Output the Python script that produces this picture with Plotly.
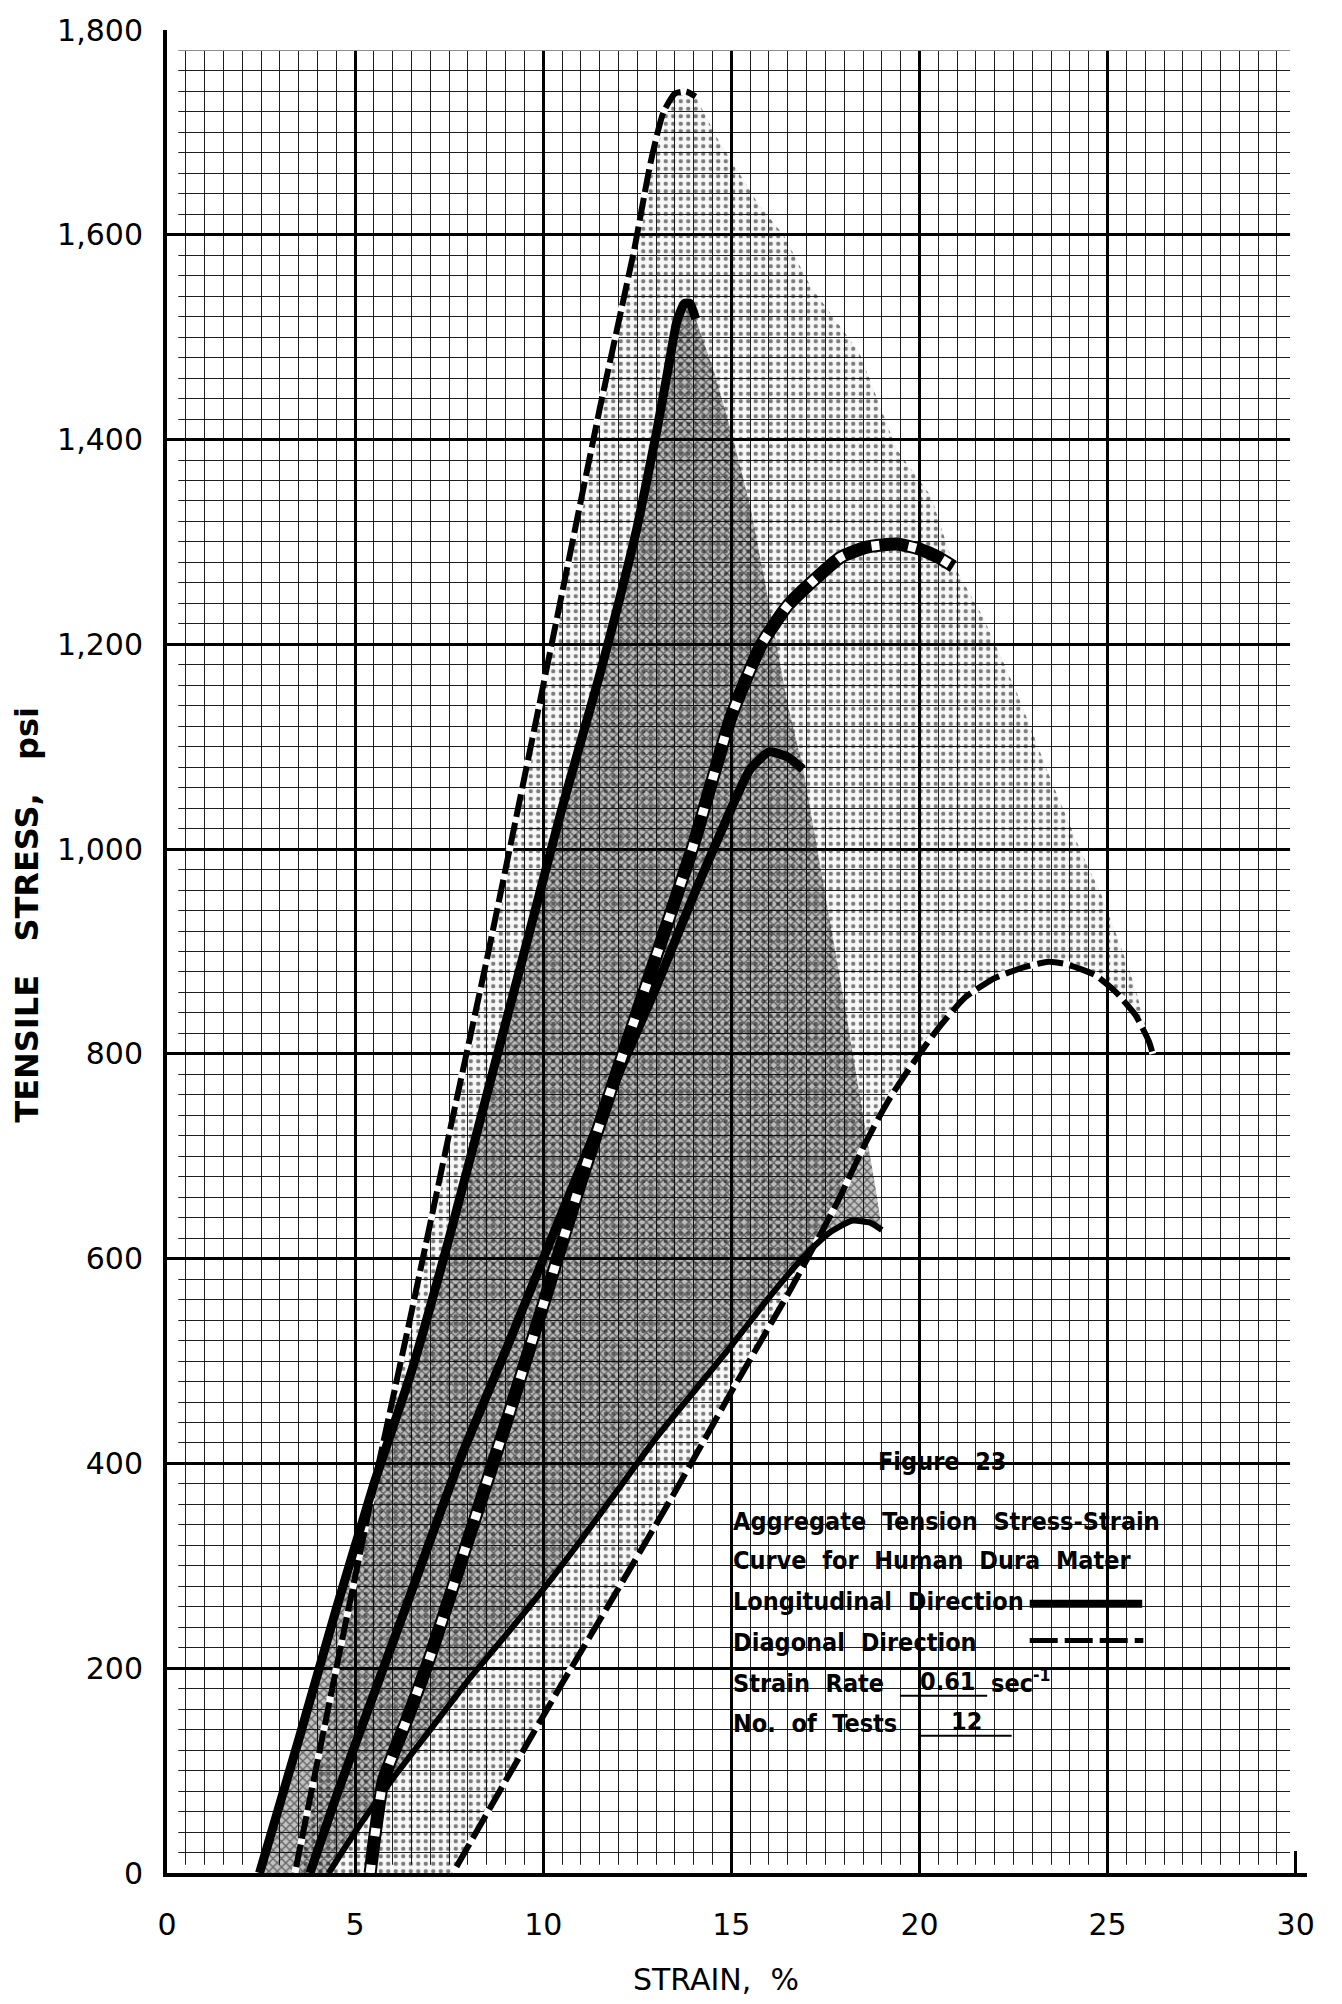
import plotly.graph_objects as go

# ---------------- Longitudinal direction (solid curves) ----------------
long_upper_strain = [2.46, 3.5, 4.5, 5.5, 6.5, 7.5, 8.5, 9.5, 10.5, 11.0, 11.5, 12.0, 12.5,
                     13.0, 13.3, 13.55, 13.75, 13.9, 14.05]
long_upper_stress = [0, 130, 258, 380, 490, 620, 760, 900, 1040, 1105, 1170, 1240, 1315,
                     1405, 1465, 1515, 1533, 1533, 1518]

long_middle_strain = [3.8, 4.5, 5.5, 6.5, 7.8, 9.0, 10.0, 11.0, 12.0, 13.0, 14.0, 15.0,
                      15.5, 16.0, 16.5, 16.9]
long_middle_stress = [0, 75, 175, 275, 405, 510, 600, 690, 780, 865, 955, 1040,
                      1078, 1095, 1090, 1078]

long_lower_strain = [4.3, 5.0, 6.0, 7.0, 8.0, 9.0, 10.0, 11.0, 12.0, 13.0, 14.0, 15.0,
                     16.0, 17.0, 17.6, 18.2, 18.7, 19.0]
long_lower_stress = [0, 40, 92, 140, 188, 232, 277, 325, 375, 425, 470, 515,
                     562, 605, 625, 637, 635, 628]

# ---------------- Diagonal direction (dashed curves) ----------------
diag_upper_strain = [3.4, 4.5, 5.5, 6.5, 7.5, 8.5, 9.5, 10.5, 11.5, 12.4, 12.85, 13.2,
                     13.5, 13.8, 14.05]
diag_upper_stress = [0, 200, 378, 548, 722, 892, 1070, 1250, 1430, 1582, 1670, 1720,
                     1738, 1740, 1735]

diag_middle_strain = [5.4, 5.75, 6.4, 7.0, 8.0, 9.0, 10.0, 11.0, 12.0, 13.0, 14.0, 15.0,
                      15.8, 16.5, 17.2, 17.9, 18.6, 19.4, 20.0, 20.5, 20.9]
diag_middle_stress = [0, 90, 152, 212, 325, 438, 555, 675, 787, 895, 1005, 1130,
                      1200, 1238, 1263, 1285, 1295, 1298, 1293, 1285, 1276]

diag_lower_strain = [7.6, 9.0, 10.5, 12.0, 13.5, 15.0, 16.5, 17.83, 18.54, 19.17, 19.87,
                     20.5, 21.21, 22.0, 22.72, 23.43, 23.87, 24.67, 25.2, 25.74, 26.1, 26.2]
diag_lower_stress = [0, 90, 185, 278, 372, 470, 565, 656, 711, 754, 793,
                     825, 855, 874, 884, 890, 888, 877, 861, 838, 812, 800]

# Right-hand edges of the shaded scatter bands (upper-curve peak down to lower-curve end)
long_edge_strain = [14.55, 15.0, 15.5, 16.0, 16.5, 16.9, 17.5, 18.0, 18.5, 18.85]
long_edge_stress = [1465, 1407, 1335, 1240, 1140, 1080, 955, 850, 740, 665]

diag_edge_strain = [14.6, 15.7, 16.4, 17.1, 18.4, 19.4, 20.3, 20.9, 21.7, 22.6, 23.5,
                    24.3, 24.84, 25.3, 25.74]
diag_edge_stress = [1696, 1631, 1599, 1550, 1485, 1390, 1345, 1278, 1226, 1152, 1067,
                    997, 955, 910, 864]

# ---------------- Axis ticks ----------------
strain_ticks = [0, 5, 10, 15, 20, 25, 30]
stress_ticks = [0, 200, 400, 600, 800, 1000, 1200, 1400, 1600, 1800]
stress_labels = ["0", "200", "400", "600", "800", "1,000", "1,200", "1,400", "1,600", "1,800"]

TICK_FONT = dict(family="DejaVu Sans, sans-serif", size=30, color="black")
NOTE_FONT = dict(family="Liberation Sans Narrow, DejaVu Sans Condensed, Roboto Condensed, Roboto, sans-serif",
                 size=25, color="black", weight="bold")


def band(upper_x, upper_y, edge_x, edge_y, lower_x, lower_y):
    xs = list(upper_x) + list(edge_x) + list(reversed(lower_x))
    ys = list(upper_y) + list(edge_y) + list(reversed(lower_y))
    return xs, ys


fig = go.Figure()

# Diagonal scatter band: dot screen
bx, by = band(diag_upper_strain, diag_upper_stress, diag_edge_strain, diag_edge_stress,
              diag_lower_strain, diag_lower_stress)
fig.add_trace(go.Scatter(
    x=bx, y=by, mode="lines", fill="toself", line=dict(width=0, color="rgba(0,0,0,0)"),
    fillcolor="rgba(0,0,0,0)",
    fillpattern=dict(shape=".", size=7.5, solidity=0.26, fgcolor="black",
                     bgcolor="rgba(0,0,0,0.03)", fillmode="overlay"),
    hoverinfo="skip", showlegend=False))

# Longitudinal scatter band: cross-hatch screen
bx, by = band(long_upper_strain, long_upper_stress, long_edge_strain, long_edge_stress,
              long_lower_strain, long_lower_stress)
fig.add_trace(go.Scatter(
    x=bx, y=by, mode="lines", fill="toself", line=dict(width=0, color="rgba(0,0,0,0)"),
    fillcolor="rgba(0,0,0,0)",
    fillpattern=dict(shape="x", size=6, solidity=0.42, fgcolor="#0a0a0a",
                     bgcolor="rgba(0,0,0,0.24)", fillmode="overlay"),
    hoverinfo="skip", showlegend=False))


def broken_line(x, y, width, white_width, gap, period):
    """Black curve interrupted by short white gaps."""
    fig.add_trace(go.Scatter(x=x, y=y, mode="lines",
                             line=dict(color="black", width=width, shape="spline", smoothing=0.5),
                             hoverinfo="skip", showlegend=False))
    fig.add_trace(go.Scatter(x=x, y=y, mode="lines",
                             line=dict(color="white", width=white_width, shape="spline", smoothing=0.5,
                                       dash=f"{gap}px,{period - gap}px"),
                             hoverinfo="skip", showlegend=False))


def solid_line(x, y, width):
    fig.add_trace(go.Scatter(x=x, y=y, mode="lines",
                             line=dict(color="black", width=width, shape="spline", smoothing=0.5),
                             hoverinfo="skip", showlegend=False))


broken_line(diag_lower_strain, diag_lower_stress, 6, 7, 7, 33)
broken_line(diag_upper_strain, diag_upper_stress, 6, 7, 6, 29)
solid_line(long_lower_strain, long_lower_stress, 6)
solid_line(long_middle_strain, long_middle_stress, 9)
broken_line(diag_middle_strain, diag_middle_stress, 13, 9, 8, 37)
solid_line(long_upper_strain, long_upper_stress, 9)

# Blank margins of the graph paper
paper_edges = [
    dict(x0=0, x1=30.3, y0=1780, y1=1800),
    dict(x0=0, x1=0.3, y0=0, y1=1800),
    dict(x0=29.85, x1=30.3, y0=0, y1=1800),
    dict(x0=0, x1=30.3, y0=0, y1=8),
]
shapes = [dict(type="rect", xref="x", yref="y", fillcolor="white", line=dict(width=0),
               layer="between", **e) for e in paper_edges]

# Key samples and underlines
shapes += [
    dict(type="line", xref="x", yref="y", x0=22.93, x1=25.92, y0=263, y1=263,
         line=dict(color="black", width=8)),
    dict(type="line", xref="x", yref="y", x0=22.93, x1=25.95, y0=227, y1=227,
         line=dict(color="black", width=5, dash="28px,7px")),
    dict(type="line", xref="x", yref="y", x0=19.48, x1=21.8, y0=173, y1=173,
         line=dict(color="black", width=2)),
    dict(type="line", xref="x", yref="y", x0=19.97, x1=22.45, y0=134, y1=134,
         line=dict(color="black", width=2)),
]

notes = [
    ("Figure  23", 20.6, 402, "center"),
    ("Aggregate  Tension  Stress-Strain", 15.0, 343, "left"),
    ("Curve  for  Human  Dura  Mater", 15.0, 305, "left"),
    ("Longitudinal  Direction", 15.0, 265, "left"),
    ("Diagonal  Direction", 15.0, 225, "left"),
    ("Strain  Rate", 15.0, 185, "left"),
    ("0.61", 20.75, 187, "center"),
    ("sec<sup>-1</sup>", 21.85, 187, "left"),
    ("No.  of  Tests", 15.0, 146, "left"),
    ("12", 21.25, 148, "center"),
]
annotations = [dict(text=t, x=x, y=y, xref="x", yref="y", xanchor=a, yanchor="middle",
                    showarrow=False, font=NOTE_FONT) for t, x, y, a in notes]

annotations += [
    dict(text="TENSILE   STRESS,   psi", textangle=-90, xref="paper", yref="paper",
         x=-0.1228, y=0.52, xanchor="center", yanchor="middle", showarrow=False,
         font=dict(family="DejaVu Sans, sans-serif", size=32, color="black", weight="bold")),
    dict(text="STRAIN,  %", xref="paper", yref="paper", x=0.4816, y=-0.058,
         xanchor="center", yanchor="middle", showarrow=False,
         font=dict(family="DejaVu Sans, sans-serif", size=30, color="black")),
]

fig.update_layout(
    width=1342, height=2004, autosize=False,
    margin=dict(l=167, r=35, t=26, b=131),
    paper_bgcolor="white", plot_bgcolor="white",
    shapes=shapes, annotations=annotations,
    xaxis=dict(range=[0, 30.3], tickmode="array", tickvals=strain_ticks,
               ticks="inside", ticklen=22, tickwidth=3, tickcolor="black",
               showline=True, linewidth=4, linecolor="black", mirror=False,
               showgrid=True, gridcolor="#000000", gridwidth=2.5, zeroline=False,
               tickfont=TICK_FONT, ticklabelstandoff=22,
               minor=dict(tickmode="linear", tick0=0, dtick=0.5, showgrid=True,
                          gridcolor="#1e1e1e", gridwidth=1.3, ticks="")),
    yaxis=dict(range=[0, 1800], tickmode="array", tickvals=stress_ticks, ticktext=stress_labels,
               ticks="inside", ticklen=22, tickwidth=3, tickcolor="black",
               showline=True, linewidth=4, linecolor="black", mirror=False,
               showgrid=True, gridcolor="#000000", gridwidth=2.5, zeroline=False,
               tickfont=TICK_FONT, ticklabelstandoff=14,
               minor=dict(tickmode="linear", tick0=0, dtick=20, showgrid=True,
                          gridcolor="#1e1e1e", gridwidth=1.3, ticks="")),
)

fig.write_html("out.html")
